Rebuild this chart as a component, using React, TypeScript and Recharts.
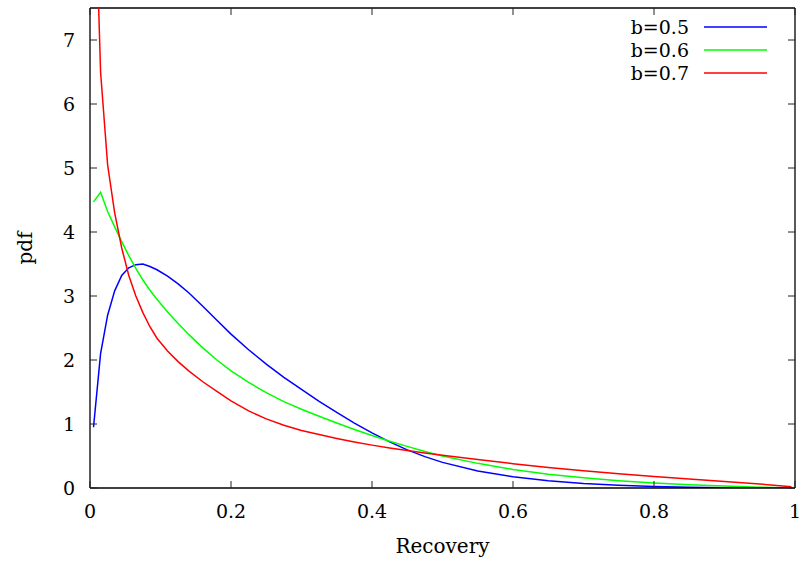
import React from "react";
import { LineChart, Line, XAxis, YAxis, Legend, ReferenceLine } from "recharts";

// sample points along Recovery (x) and the pdf for each b
const recovery = [
  0.005, 0.015, 0.025, 0.035, 0.045, 0.055, 0.065, 0.075, 0.085, 0.095,
  0.11, 0.125, 0.14, 0.16, 0.18, 0.2, 0.225, 0.25, 0.275, 0.3,
  0.325, 0.35, 0.375, 0.4, 0.425, 0.45, 0.475, 0.5, 0.55, 0.6,
  0.65, 0.7, 0.75, 0.8, 0.85, 0.9, 0.95, 0.995,
];
const pdfB05 = [
  0.95, 2.1, 2.7, 3.08, 3.32, 3.44, 3.49, 3.5, 3.46, 3.41,
  3.31, 3.19, 3.05, 2.84, 2.62, 2.405, 2.16, 1.935, 1.73, 1.54,
  1.355, 1.18, 1.015, 0.86, 0.72, 0.595, 0.49, 0.4, 0.265, 0.175,
  0.115, 0.072, 0.043, 0.024, 0.012, 0.005, 0.0015, 0,
];
const pdfB06 = [
  4.47, 4.62, 4.32, 4.08, 3.85, 3.63, 3.43, 3.25, 3.09, 2.95,
  2.75, 2.57, 2.4, 2.19, 2.0, 1.83, 1.65, 1.49, 1.35, 1.23,
  1.12, 1.015, 0.915, 0.82, 0.73, 0.65, 0.57, 0.5, 0.385, 0.29,
  0.215, 0.16, 0.115, 0.08, 0.052, 0.03, 0.013, 0.001,
];
const pdfB07 = [
  10.2, 6.5, 5.05, 4.3, 3.75, 3.32, 3.0, 2.74, 2.52, 2.34,
  2.14, 1.975, 1.83, 1.66, 1.51, 1.36, 1.205, 1.08, 0.98, 0.9,
  0.835, 0.775, 0.72, 0.67, 0.625, 0.585, 0.548, 0.513, 0.445, 0.38,
  0.322, 0.27, 0.223, 0.18, 0.14, 0.102, 0.063, 0.02,
];
const seriesNames = ["b=0.5", "b=0.6", "b=0.7"];
const seriesColors = ["#0000ff", "#00ff00", "#ff0000"];
const xTicks = [0, 0.2, 0.4, 0.6, 0.8, 1];
const yTicks = [0, 1, 2, 3, 4, 5, 6, 7];

const data = recovery.map((x, i) => ({
  x,
  b05: pdfB05[i],
  b06: pdfB06[i],
  b07: pdfB07[i],
}));
const keys = ["b05", "b06", "b07"];

const W = 807;
const H = 563;
const TOP = 8;
const RIGHT = 795;
const FONT = "'DejaVu Serif', serif";
const TICK_LEN = 7;

const XTick = (props: any) => {
  const { x, y, payload } = props;
  return (
    <g>
      <line x1={x} y1={y} x2={x} y2={y - TICK_LEN} stroke="#222" strokeWidth={1} />
      <line x1={x} y1={TOP} x2={x} y2={TOP + TICK_LEN} stroke="#222" strokeWidth={1} />
      <text x={x} y={y + 30} textAnchor="middle" fontFamily={FONT} fontSize={19} fill="#000">
        {String(payload.value)}
      </text>
    </g>
  );
};

const YTick = (props: any) => {
  const { x, y, payload } = props;
  return (
    <g>
      <line x1={x} y1={y} x2={x + TICK_LEN} y2={y} stroke="#222" strokeWidth={1} />
      <line x1={RIGHT} y1={y} x2={RIGHT - TICK_LEN} y2={y} stroke="#222" strokeWidth={1} />
      <text x={x - 15} y={y + 7} textAnchor="end" fontFamily={FONT} fontSize={19} fill="#000">
        {String(payload.value)}
      </text>
    </g>
  );
};

const KeyBox = (props: any) => {
  const { payload } = props;
  return (
    <svg width={180} height={72}>
      {(payload || []).map((p: any, i: number) => (
        <g key={i}>
          <text x={89} y={12 + i * 23 + 7} textAnchor="end" fontFamily={FONT} fontSize={19} fill="#000">
            {p.value}
          </text>
          <line x1={104} x2={167} y1={12 + i * 23} y2={12 + i * 23} stroke={p.color} strokeWidth={1.5} />
        </g>
      ))}
    </svg>
  );
};

const PdfLabel = (props: any) => {
  const { viewBox } = props;
  const cy = viewBox.y + viewBox.height / 2;
  return (
    <text
      transform={`translate(32, ${cy}) rotate(-90)`}
      textAnchor="middle"
      fontFamily={FONT}
      fontSize={20}
      fill="#000"
    >
      pdf
    </text>
  );
};

export default function App() {
  return (
    <div style={{ position: "absolute", left: 0, top: 0, background: "#fff" }}>
      <LineChart width={W} height={H} data={data} margin={{ top: TOP, right: W - RIGHT, bottom: 0, left: 0 }}>
        <XAxis
          dataKey="x"
          type="number"
          domain={[0, 1]}
          ticks={xTicks}
          interval={0}
          height={75}
          tickSize={0}
          tickMargin={0}
          tickLine={false}
          axisLine={{ stroke: "#000", strokeWidth: 1.3 }}
          tick={<XTick />}
          label={{ value: "Recovery", position: "insideBottom", offset: 10, fontFamily: FONT, fontSize: 20, fill: "#000" }}
        />
        <YAxis
          type="number"
          domain={[0, 7.5]}
          ticks={yTicks}
          interval={0}
          allowDataOverflow
          width={90}
          tickSize={0}
          tickMargin={0}
          tickLine={false}
          axisLine={{ stroke: "#000", strokeWidth: 1.3 }}
          tick={<YTick />}
          label={<PdfLabel />}
        />
        <ReferenceLine y={7.5} stroke="#000" strokeWidth={1.3} />
        <ReferenceLine x={1} stroke="#000" strokeWidth={1.3} />
        <Legend
          layout="vertical"
          align="center"
          verticalAlign="middle"
          wrapperStyle={{ left: 600, top: 15, width: 180, height: 72 }}
          content={<KeyBox />}
        />
        {keys.map((k, i) => (
          <Line
            key={k}
            type="linear"
            dataKey={k}
            name={seriesNames[i]}
            stroke={seriesColors[i]}
            strokeWidth={1.5}
            dot={false}
            isAnimationActive={false}
          />
        ))}
      </LineChart>
    </div>
  );
}
